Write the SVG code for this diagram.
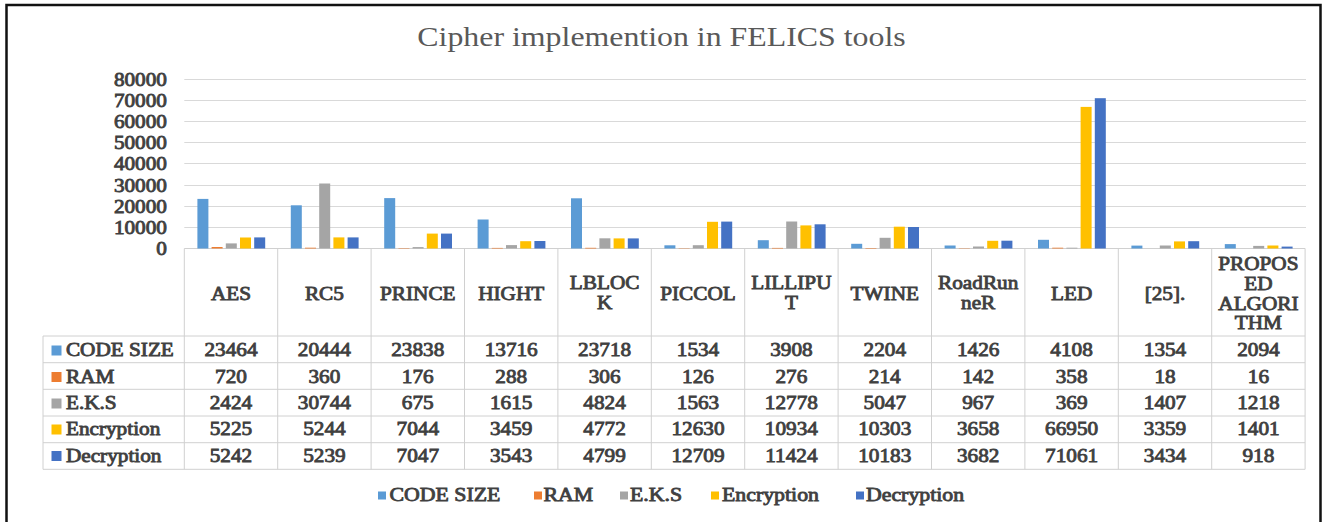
<svg xmlns="http://www.w3.org/2000/svg" width="1327" height="522" viewBox="0 0 1327 522">
<style>
.t{fill:#404040;stroke:#404040;stroke-width:0.8px;font-size:18px}
.c{text-anchor:middle}
.lg{font-size:18.5px}
.grid{stroke:#D9D9D9;stroke-width:1}
.tbl{stroke:#D0D0D0;stroke-width:1;fill:none}
.cs{fill:#5B9BD5}.ram{fill:#ED7D31}.eks{fill:#A5A5A5}.enc{fill:#FFC000}.dec{fill:#4472C4}
</style>
<rect x="0" y="0" width="1327" height="522" fill="#fff"/>
<rect id="frame" x="6.5" y="5" width="1314" height="530" fill="none" stroke="#111" stroke-width="2.5"/>
<g id="gridlines" class="grid">
<line x1="184.3" y1="79.5" x2="1306" y2="79.5"/>
<line x1="184.3" y1="100.5" x2="1306" y2="100.5"/>
<line x1="184.3" y1="121.5" x2="1306" y2="121.5"/>
<line x1="184.3" y1="142.5" x2="1306" y2="142.5"/>
<line x1="184.3" y1="163.5" x2="1306" y2="163.5"/>
<line x1="184.3" y1="185.5" x2="1306" y2="185.5"/>
<line x1="184.3" y1="206.5" x2="1306" y2="206.5"/>
<line x1="184.3" y1="227.5" x2="1306" y2="227.5"/>
</g>
<g id="table-lines" class="tbl">
<line x1="184.3" y1="248.5" x2="1305.1" y2="248.5"/>
<line x1="43" y1="336" x2="1305.1" y2="336"/>
<line x1="43" y1="362.7" x2="1305.1" y2="362.7"/>
<line x1="43" y1="389.3" x2="1305.1" y2="389.3"/>
<line x1="43" y1="416" x2="1305.1" y2="416"/>
<line x1="43" y1="442.7" x2="1305.1" y2="442.7"/>
<line x1="43" y1="469.3" x2="1305.1" y2="469.3"/>
<line x1="43" y1="336" x2="43" y2="469.3"/>
<line x1="184.3" y1="248.5" x2="184.3" y2="469.3"/>
<line x1="277.7" y1="248.5" x2="277.7" y2="469.3"/>
<line x1="371.1" y1="248.5" x2="371.1" y2="469.3"/>
<line x1="464.5" y1="248.5" x2="464.5" y2="469.3"/>
<line x1="557.9" y1="248.5" x2="557.9" y2="469.3"/>
<line x1="651.3" y1="248.5" x2="651.3" y2="469.3"/>
<line x1="744.7" y1="248.5" x2="744.7" y2="469.3"/>
<line x1="838.1" y1="248.5" x2="838.1" y2="469.3"/>
<line x1="931.5" y1="248.5" x2="931.5" y2="469.3"/>
<line x1="1024.9" y1="248.5" x2="1024.9" y2="469.3"/>
<line x1="1118.3" y1="248.5" x2="1118.3" y2="469.3"/>
<line x1="1211.7" y1="248.5" x2="1211.7" y2="469.3"/>
<line x1="1305.1" y1="248.5" x2="1305.1" y2="469.3"/>
</g>
<g id="bars-code-size" class="cs">
<rect x="197.4" y="198.9" width="11" height="49.6"/>
<rect x="290.8" y="205.3" width="11" height="43.2"/>
<rect x="384.2" y="198.1" width="11" height="50.4"/>
<rect x="477.6" y="219.5" width="11" height="29"/>
<rect x="571" y="198.3" width="11" height="50.2"/>
<rect x="664.4" y="245.3" width="11" height="3.2"/>
<rect x="757.8" y="240.2" width="11" height="8.3"/>
<rect x="851.2" y="243.8" width="11" height="4.7"/>
<rect x="944.6" y="245.5" width="11" height="3"/>
<rect x="1038" y="239.8" width="11" height="8.7"/>
<rect x="1131.4" y="245.6" width="11" height="2.9"/>
<rect x="1224.8" y="244.1" width="11" height="4.4"/>
</g>
<g id="bars-ram" class="ram">
<rect x="211.6" y="247" width="11" height="1.5"/>
<rect x="305" y="247.7" width="11" height="0.8"/>
<rect x="398.4" y="248.1" width="11" height="0.4"/>
<rect x="491.8" y="247.9" width="11" height="0.6"/>
<rect x="585.2" y="247.8" width="11" height="0.7"/>
<rect x="678.6" y="248.2" width="11" height="0.3"/>
<rect x="772" y="247.9" width="11" height="0.6"/>
<rect x="865.4" y="248" width="11" height="0.5"/>
<rect x="958.8" y="248.2" width="11" height="0.3"/>
<rect x="1052.2" y="247.7" width="11" height="0.8"/>
</g>
<g id="bars-eks" class="eks">
<rect x="225.8" y="243.4" width="11" height="5.1"/>
<rect x="319.2" y="183.5" width="11" height="65"/>
<rect x="412.6" y="247.1" width="11" height="1.4"/>
<rect x="506" y="245.1" width="11" height="3.4"/>
<rect x="599.4" y="238.3" width="11" height="10.2"/>
<rect x="692.8" y="245.2" width="11" height="3.3"/>
<rect x="786.2" y="221.5" width="11" height="27"/>
<rect x="879.6" y="237.8" width="11" height="10.7"/>
<rect x="973" y="246.5" width="11" height="2"/>
<rect x="1066.4" y="247.7" width="11" height="0.8"/>
<rect x="1159.8" y="245.5" width="11" height="3"/>
<rect x="1253.2" y="245.9" width="11" height="2.6"/>
</g>
<g id="bars-encryption" class="enc">
<rect x="240" y="237.5" width="11" height="11"/>
<rect x="333.4" y="237.4" width="11" height="11.1"/>
<rect x="426.8" y="233.6" width="11" height="14.9"/>
<rect x="520.2" y="241.2" width="11" height="7.3"/>
<rect x="613.6" y="238.4" width="11" height="10.1"/>
<rect x="707" y="221.8" width="11" height="26.7"/>
<rect x="800.4" y="225.4" width="11" height="23.1"/>
<rect x="893.8" y="226.7" width="11" height="21.8"/>
<rect x="987.2" y="240.8" width="11" height="7.7"/>
<rect x="1080.6" y="106.9" width="11" height="141.6"/>
<rect x="1174" y="241.4" width="11" height="7.1"/>
<rect x="1267.4" y="245.5" width="11" height="3"/>
</g>
<g id="bars-decryption" class="dec">
<rect x="254.2" y="237.4" width="11" height="11.1"/>
<rect x="347.6" y="237.4" width="11" height="11.1"/>
<rect x="441" y="233.6" width="11" height="14.9"/>
<rect x="534.4" y="241" width="11" height="7.5"/>
<rect x="627.8" y="238.4" width="11" height="10.1"/>
<rect x="721.2" y="221.6" width="11" height="26.9"/>
<rect x="814.6" y="224.3" width="11" height="24.2"/>
<rect x="908" y="227" width="11" height="21.5"/>
<rect x="1001.4" y="240.7" width="11" height="7.8"/>
<rect x="1094.8" y="98.2" width="11" height="150.3"/>
<rect x="1188.2" y="241.2" width="11" height="7.3"/>
<rect x="1281.6" y="246.6" width="11" height="1.9"/>
</g>
<g id="markers">
<rect class="cs" x="51.5" y="345.5" width="10" height="10"/>
<rect class="ram" x="51.5" y="372" width="10" height="10"/>
<rect class="eks" x="51.5" y="398.5" width="10" height="10"/>
<rect class="enc" x="51.5" y="424.5" width="10" height="10"/>
<rect class="dec" x="51.5" y="451" width="10" height="10"/>
<rect class="cs" x="378" y="491.5" width="8" height="8"/>
<rect class="ram" x="534" y="491.5" width="8" height="8"/>
<rect class="eks" x="620" y="491.5" width="8" height="8"/>
<rect class="enc" x="711" y="491.5" width="8" height="8"/>
<rect class="dec" x="856" y="491.5" width="8" height="8"/>
</g>
<g id="texts" transform="scale(1.18 1)" font-family="Liberation Serif, serif">
<text id="title" x="560.6" y="46.5" text-anchor="middle" font-size="27" fill="#595959">Cipher implemention in FELICS tools</text>
<g id="y-axis" class="t" text-anchor="end">
<text x="141.5" y="85.8">80000</text>
<text x="141.5" y="107">70000</text>
<text x="141.5" y="128.1">60000</text>
<text x="141.5" y="149.3">50000</text>
<text x="141.5" y="170.4">40000</text>
<text x="141.5" y="191.6">30000</text>
<text x="141.5" y="212.7">20000</text>
<text x="141.5" y="233.9">10000</text>
<text x="141.5" y="255">0</text>
</g>
<g id="headers" class="t c">
<text x="195.76" y="300">AES</text>
<text x="274.92" y="300">RC5</text>
<text x="354.07" y="300">PRINCE</text>
<text x="433.22" y="300">HIGHT</text>
<text x="512.37" y="289">LBLOC</text><text x="512.37" y="309">K</text>
<text x="591.53" y="300">PICCOL</text>
<text x="670.68" y="289">LILLIPU</text><text x="670.68" y="309">T</text>
<text x="749.83" y="300">TWINE</text>
<text x="828.98" y="289">RoadRun</text><text x="828.98" y="309">neR</text>
<text x="908.14" y="300">LED</text>
<text x="987.29" y="300">[25].</text>
<text x="1066.44" y="270">PROPOS</text><text x="1066.44" y="290">ED</text><text x="1066.44" y="310">ALGORI</text><text x="1066.44" y="329.5">THM</text>
</g>
<g id="row-labels" class="t">
<text x="55.9" y="356.5">CODE SIZE</text>
<text x="55.9" y="383">RAM</text>
<text x="55.9" y="409.5">E.K.S</text>
<text x="55.9" y="435.5">Encryption</text>
<text x="55.9" y="462">Decryption</text>
</g>
<g id="row-code-size" class="t c">
<text x="195.76" y="356.5">23464</text><text x="274.92" y="356.5">20444</text><text x="354.07" y="356.5">23838</text><text x="433.22" y="356.5">13716</text><text x="512.37" y="356.5">23718</text><text x="591.53" y="356.5">1534</text><text x="670.68" y="356.5">3908</text><text x="749.83" y="356.5">2204</text><text x="828.98" y="356.5">1426</text><text x="908.14" y="356.5">4108</text><text x="987.29" y="356.5">1354</text><text x="1066.44" y="356.5">2094</text>
</g>
<g id="row-ram" class="t c">
<text x="195.76" y="383">720</text><text x="274.92" y="383">360</text><text x="354.07" y="383">176</text><text x="433.22" y="383">288</text><text x="512.37" y="383">306</text><text x="591.53" y="383">126</text><text x="670.68" y="383">276</text><text x="749.83" y="383">214</text><text x="828.98" y="383">142</text><text x="908.14" y="383">358</text><text x="987.29" y="383">18</text><text x="1066.44" y="383">16</text>
</g>
<g id="row-eks" class="t c">
<text x="195.76" y="409.5">2424</text><text x="274.92" y="409.5">30744</text><text x="354.07" y="409.5">675</text><text x="433.22" y="409.5">1615</text><text x="512.37" y="409.5">4824</text><text x="591.53" y="409.5">1563</text><text x="670.68" y="409.5">12778</text><text x="749.83" y="409.5">5047</text><text x="828.98" y="409.5">967</text><text x="908.14" y="409.5">369</text><text x="987.29" y="409.5">1407</text><text x="1066.44" y="409.5">1218</text>
</g>
<g id="row-encryption" class="t c">
<text x="195.76" y="435.5">5225</text><text x="274.92" y="435.5">5244</text><text x="354.07" y="435.5">7044</text><text x="433.22" y="435.5">3459</text><text x="512.37" y="435.5">4772</text><text x="591.53" y="435.5">12630</text><text x="670.68" y="435.5">10934</text><text x="749.83" y="435.5">10303</text><text x="828.98" y="435.5">3658</text><text x="908.14" y="435.5">66950</text><text x="987.29" y="435.5">3359</text><text x="1066.44" y="435.5">1401</text>
</g>
<g id="row-decryption" class="t c">
<text x="195.76" y="462">5242</text><text x="274.92" y="462">5239</text><text x="354.07" y="462">7047</text><text x="433.22" y="462">3543</text><text x="512.37" y="462">4799</text><text x="591.53" y="462">12709</text><text x="670.68" y="462">11424</text><text x="749.83" y="462">10183</text><text x="828.98" y="462">3682</text><text x="908.14" y="462">71061</text><text x="987.29" y="462">3434</text><text x="1066.44" y="462">918</text>
</g>
<g id="legend" class="t lg">
<text x="330.1" y="501.5">CODE SIZE</text>
<text x="460.6" y="501.5">RAM</text>
<text x="533.9" y="501.5">E.K.S</text>
<text x="611.9" y="501.5">Encryption</text>
<text x="733.9" y="501.5">Decryption</text>
</g>
</g>
</svg>
